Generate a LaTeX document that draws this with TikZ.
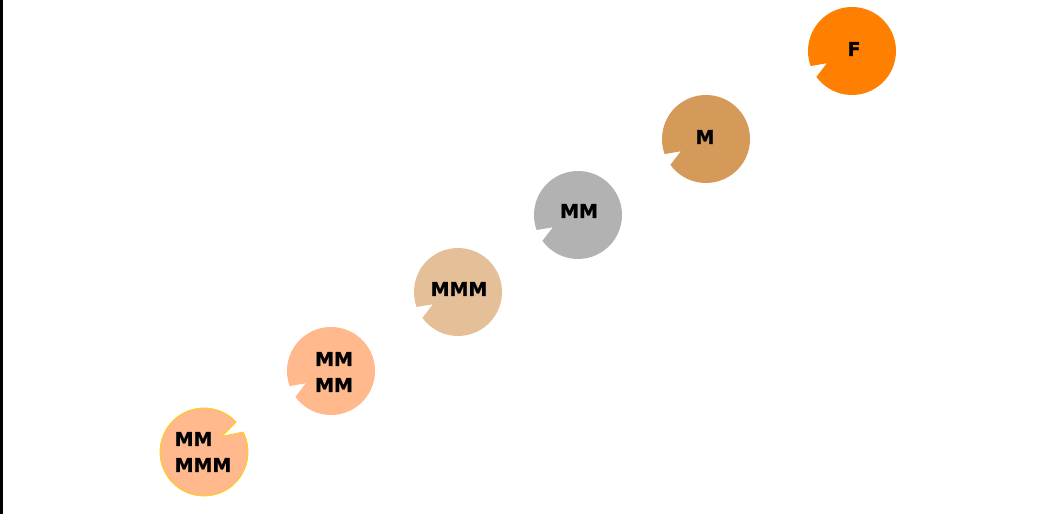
\documentclass[tikz,border=0pt]{standalone}
\usepackage{fontspec}
\newfontfamily\labelfont[FakeBold=1.2]{DejaVu Sans Bold}
\usetikzlibrary{calc}

\definecolor{peach}{RGB}{255,185,140}
\definecolor{tan}{RGB}{229,191,151}
\definecolor{stone}{RGB}{178,178,178}
\definecolor{copper}{RGB}{213,153,89}
\definecolor{tangerine}{RGB}{255,128,0}

\begin{document}
\begin{tikzpicture}[x=1bp,y=1bp]

\tikzset{
    tag/.style={inner sep=0pt,align=center,font=\labelfont\fontsize{19bp}{26bp}\selectfont},
    lowbite/.style={fill=#1,draw=none}}

\useasboundingbox (0,0) rectangle (1051,514);
\draw[line width=2.5bp] (1.4,0) -- (1.4,514);

\coordinate (A) at (204,62);
\coordinate (B) at (331,143);
\coordinate (C) at (458,222);
\coordinate (D) at (578,299);
\coordinate (E) at (706,375);
\coordinate (F) at (852,463);

% first one bites up to the right
\fill[peach,draw=yellow!70!orange,line width=0.8bp] ($(A)+(43:44bp)$) arc[start angle=43,end angle=387,radius=44bp] -- ($(A)+(41:24bp)$) -- cycle;

\fill[lowbite=peach] ($(B)+(216:44bp)$) arc[start angle=216,end angle=560,radius=44bp] -- ($(B)+(206:28bp)$) -- cycle;
\fill[lowbite=tan] ($(C)+(216:44bp)$) arc[start angle=216,end angle=560,radius=44bp] -- ($(C)+(206:28bp)$) -- cycle;
\fill[lowbite=stone] ($(D)+(216:44bp)$) arc[start angle=216,end angle=560,radius=44bp] -- ($(D)+(206:28bp)$) -- cycle;
\fill[lowbite=copper] ($(E)+(216:44bp)$) arc[start angle=216,end angle=560,radius=44bp] -- ($(E)+(206:28bp)$) -- cycle;
\fill[lowbite=tangerine] ($(F)+(216:44bp)$) arc[start angle=216,end angle=560,radius=44bp] -- ($(F)+(206:28bp)$) -- cycle;

\node[tag,align=left] (tA) at ($(A)+(-1,0)$) {MM\\MMM};
\node[tag] (tB) at ($(B)+(3,-1)$) {MM\\MM};
\node[tag] (tC) at ($(C)+(1,3)$) {MMM};
\node[tag] (tD) at ($(D)+(1,4)$) {MM};
\node[tag] (tE) at ($(E)+(-1,2)$) {M};
\node[tag] (tF) at ($(F)+(2,2)$) {F};

\end{tikzpicture}
\end{document}
